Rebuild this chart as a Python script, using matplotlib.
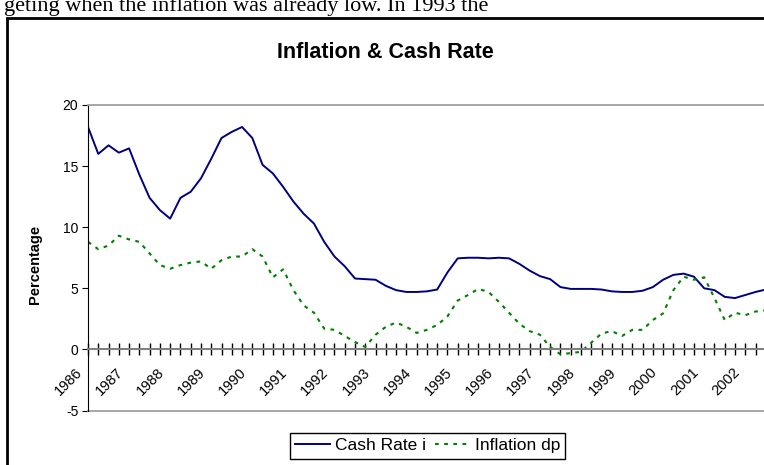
import numpy as np
import matplotlib.pyplot as plt
from matplotlib.patches import Rectangle
from matplotlib.transforms import ScaledTranslation

# quarterly values, 1986 Q1 onwards
cash_rate = [18.2, 16.0, 16.7, 16.1, 16.45, 14.3, 12.4, 11.4, 10.7, 12.4,
             12.9, 14.0, 15.6, 17.3, 17.8, 18.2, 17.3, 15.1, 14.4, 13.3,
             12.1, 11.1, 10.3, 8.8, 7.6, 6.8, 5.8, 5.75, 5.7, 5.2,
             4.85, 4.7, 4.7, 4.75, 4.9, 6.3, 7.45, 7.5, 7.5, 7.45,
             7.5, 7.45, 7.0, 6.45, 6.0, 5.75, 5.1, 4.95, 4.95, 4.95,
             4.9, 4.75, 4.7, 4.7, 4.8, 5.1, 5.7, 6.1, 6.2, 5.95,
             5.0, 4.85, 4.3, 4.2, 4.45, 4.7, 4.9]
inflation = [8.8, 8.2, 8.5, 9.3, 9.0, 8.8, 7.85, 6.9, 6.6, 6.9,
             7.1, 7.2, 6.6, 7.3, 7.6, 7.6, 8.2, 7.6, 5.9, 6.55,
             4.85, 3.6, 3.0, 1.7, 1.6, 1.1, 0.6, 0.2, 1.2, 1.85,
             2.2, 1.85, 1.35, 1.6, 2.0, 2.7, 4.0, 4.45, 4.95, 4.7,
             3.9, 3.0, 2.1, 1.5, 1.2, 0.2, -0.4, -0.3, -0.2, 0.55,
             1.3, 1.5, 1.1, 1.6, 1.6, 2.4, 2.95, 4.85, 5.95, 5.7,
             5.9, 4.2, 2.4, 3.0, 2.8, 3.1, 3.2]
years = [str(y) for y in range(1986, 2003)]
y_ticks = [-5, 0, 5, 10, 15, 20]

plt.rcParams['font.family'] = ['Liberation Sans', 'DejaVu Sans']
plt.rcParams['axes.unicode_minus'] = False

W, H = 764, 465
fig = plt.figure(figsize=(W / 100, H / 100), dpi=100)


def fx(px):
    return px / W


def fy(py):
    return 1 - py / H


# line of the page text above the chart (cut off at the top)
fig.text(fx(4), fy(11.5), 'geting when the inflation was already low. In 1993 the',
         family='Liberation Serif', fontsize=16, va='baseline', ha='left')

# chart frame
fig.add_artist(Rectangle((fx(7), fy(490)), fx(820), fy(18) - fy(490),
                         transform=fig.transFigure, fill=False, ec='black', lw=2))

fig.text(fx(385), fy(53), 'Inflation & Cash Rate', ha='center', va='center',
         fontsize=15.5, fontweight='bold')

n_q = 68
ax = fig.add_axes([fx(88), fy(410.5), fx(88 + n_q * 10.27) - fx(88), fy(105) - fy(410.5)])
q = np.arange(len(cash_rate))
ax.plot(q, cash_rate, color='#000080', lw=1.4, label='Cash Rate i')
ax.plot(q, inflation, color='#008000', lw=1.5, dashes=(1.8, 2.6), label='Inflation dp')

ax.set_xlim(0, n_q)
ax.set_ylim(-5, 20)

ax.spines['right'].set_visible(False)
ax.spines['top'].set_color('#a0a0a0')
ax.spines['top'].set_linewidth(1.3)
ax.spines['left'].set_color('black')
ax.spines['bottom'].set_position(('data', 0))
ax.spines['bottom'].set_color('#808080')
ax.spines['bottom'].set_linewidth(1.5)
ax.axhline(-5, color='#a0a0a0', lw=1.3, clip_on=False)

ax.set_yticks(y_ticks)
ax.tick_params(axis='y', direction='out', length=4, color='black', labelsize=10, pad=3)

ax.set_xticks(np.arange(0, 4 * len(years), 4))
ax.set_xticklabels(years)
ax.set_xticks(np.arange(0, n_q + 1), minor=True)
ax.tick_params(axis='x', which='both', direction='inout', length=8, color='black',
               width=1, labelsize=10.5, pad=1)
shift = ScaledTranslation(-8 / 100, -14 / 100, fig.dpi_scale_trans)
for lab in ax.get_xticklabels():
    lab.set_rotation(45)
    lab.set_ha('right')
    lab.set_va('center')
    lab.set_rotation_mode('anchor')
    lab.set_transform(lab.get_transform() + shift)

ax.set_ylabel('Percentage', fontsize=10.5, fontweight='bold')
ax.yaxis.set_label_coords(fx(42), fy(264), transform=fig.transFigure)

fig.legend(loc='upper left', bbox_to_anchor=(fx(290), fy(433)), ncol=2,
           frameon=True, fancybox=False, edgecolor='black', framealpha=1,
           fontsize=12.5, handlelength=2.0, columnspacing=0.5, handletextpad=0.3,
           borderpad=0.3, borderaxespad=0)

fig.savefig('out.png', dpi=100)
